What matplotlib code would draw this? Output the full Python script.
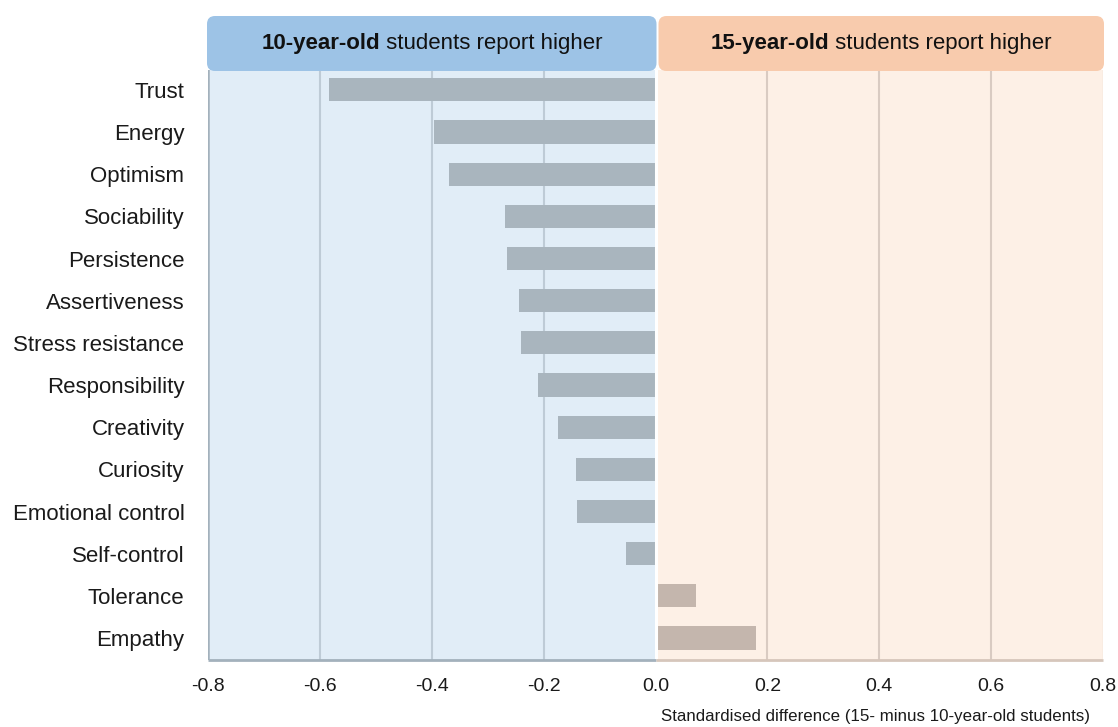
import matplotlib
matplotlib.use("Agg")
import matplotlib.pyplot as plt
from matplotlib.patches import FancyBboxPatch
from matplotlib import font_manager

# ---- data ----
skills = ["Trust", "Energy", "Optimism", "Sociability", "Persistence",
          "Assertiveness", "Stress resistance", "Responsibility", "Creativity",
          "Curiosity", "Emotional control", "Self-control", "Tolerance", "Empathy"]
differences = [-0.584, -0.396, -0.369, -0.269, -0.266, -0.244, -0.240,
               -0.210, -0.174, -0.142, -0.140, -0.053, 0.073, 0.179]
x_ticks = [-0.8, -0.6, -0.4, -0.2, 0.0, 0.2, 0.4, 0.6, 0.8]
x_label = "Standardised difference (15- minus 10-year-old students)"
header_left = ("10-year-old", " students report higher")
header_right = ("15-year-old", " students report higher")

# ---- fonts ----
names = {f.name for f in font_manager.fontManager.ttflist}
fam = ["Liberation Sans Narrow", "Liberation Sans", "DejaVu Sans"]
fam = [f for f in fam if f in names] or ["DejaVu Sans"]
plt.rcParams["font.family"] = fam

W, H = 1118, 727
fig = plt.figure(figsize=(W / 100, H / 100), dpi=100)
L, R, T, B = 208, 1103, 70, 660
ax = fig.add_axes([L / W, 1 - B / H, (R - L) / W, (B - T) / H])

xmin, xmax = x_ticks[0], x_ticks[-1]
ax.set_xlim(xmin, xmax)
n = len(skills)
ax.set_ylim(n - 0.48, -0.47)

blue_bg, pink_bg = "#E1EDF7", "#FDF0E6"
blue_grid, pink_grid = "#BECBD6", "#D9CBC2"
ax.axvspan(xmin, 0, color=blue_bg, zorder=0, lw=0)
ax.axvspan(0, xmax, color=pink_bg, zorder=0, lw=0)
for t in x_ticks[1:-1]:
    if t < 0:
        ax.axvline(t, color=blue_grid, lw=1.5, zorder=1)
    elif t > 0:
        ax.axvline(t, color=pink_grid, lw=1.5, zorder=1)

colors = ["#A9B5BE" if v < 0 else "#C4B6AD" for v in differences]
ax.barh(range(n), differences, height=0.55, color=colors, zorder=2, lw=0)
ax.axvline(0, color="white", lw=2.2, zorder=3)

for s in ax.spines.values():
    s.set_visible(False)
ax.axvline(xmin, color="#A3B1BC", lw=1.8, zorder=4)
ax.hlines(n - 0.48, xmin, 0, color="#A3B1BC", lw=2, zorder=4, clip_on=False)
ax.hlines(n - 0.48, 0, xmax, color="#D6C6BB", lw=2, zorder=4, clip_on=False)
ax.axvline(xmax, color="#E9DCD2", lw=1, zorder=4)

ax.set_yticks(range(n))
ax.set_yticklabels(skills, fontsize=16, color="#1a1a1a")
ax.tick_params(axis="y", length=0, pad=17)
ax.set_xticks(x_ticks)
ax.set_xticklabels([f"{t:.1f}" for t in x_ticks], fontsize=14, color="#1a1a1a")
ax.tick_params(axis="x", length=0, pad=13)

fig.text(1090 / W, 1 - 717 / H, x_label, ha="right", va="center",
         fontsize=12.2, color="#1a1a1a")

# ---- header boxes ----
hax = fig.add_axes([0, 0, 1, 1], facecolor="none")
hax.set_xlim(0, W)
hax.set_ylim(H, 0)
hax.axis("off")


def to_px(x):
    return ax.transData.transform((x, 0))[0]


def header(x0, x1, color, bold, rest):
    box = FancyBboxPatch((x0 + 8, 16 + 8), (x1 - x0) - 16, 55 - 16,
                         boxstyle="round,pad=8", fc=color, ec="none", zorder=5)
    hax.add_patch(box)
    cx = (x0 + x1) / 2
    t1 = hax.text(0, 43, bold, fontsize=16, fontweight="bold", va="center",
                  ha="left", color="#111111", zorder=6)
    t2 = hax.text(0, 43, rest, fontsize=16, va="center", ha="left",
                  color="#111111", zorder=6)
    fig.canvas.draw()
    r = fig.canvas.get_renderer()
    w1 = t1.get_window_extent(r).width
    w2 = t2.get_window_extent(r).width
    start = cx - (w1 + w2) / 2
    t1.set_x(start)
    t2.set_x(start + w1)


header(to_px(xmin) - 1, to_px(0) + 1, "#9DC3E6", *header_left)
header(to_px(0) + 3, to_px(xmax) + 1, "#F8CBAD", *header_right)

fig.savefig("out.png", dpi=100, facecolor="white")
